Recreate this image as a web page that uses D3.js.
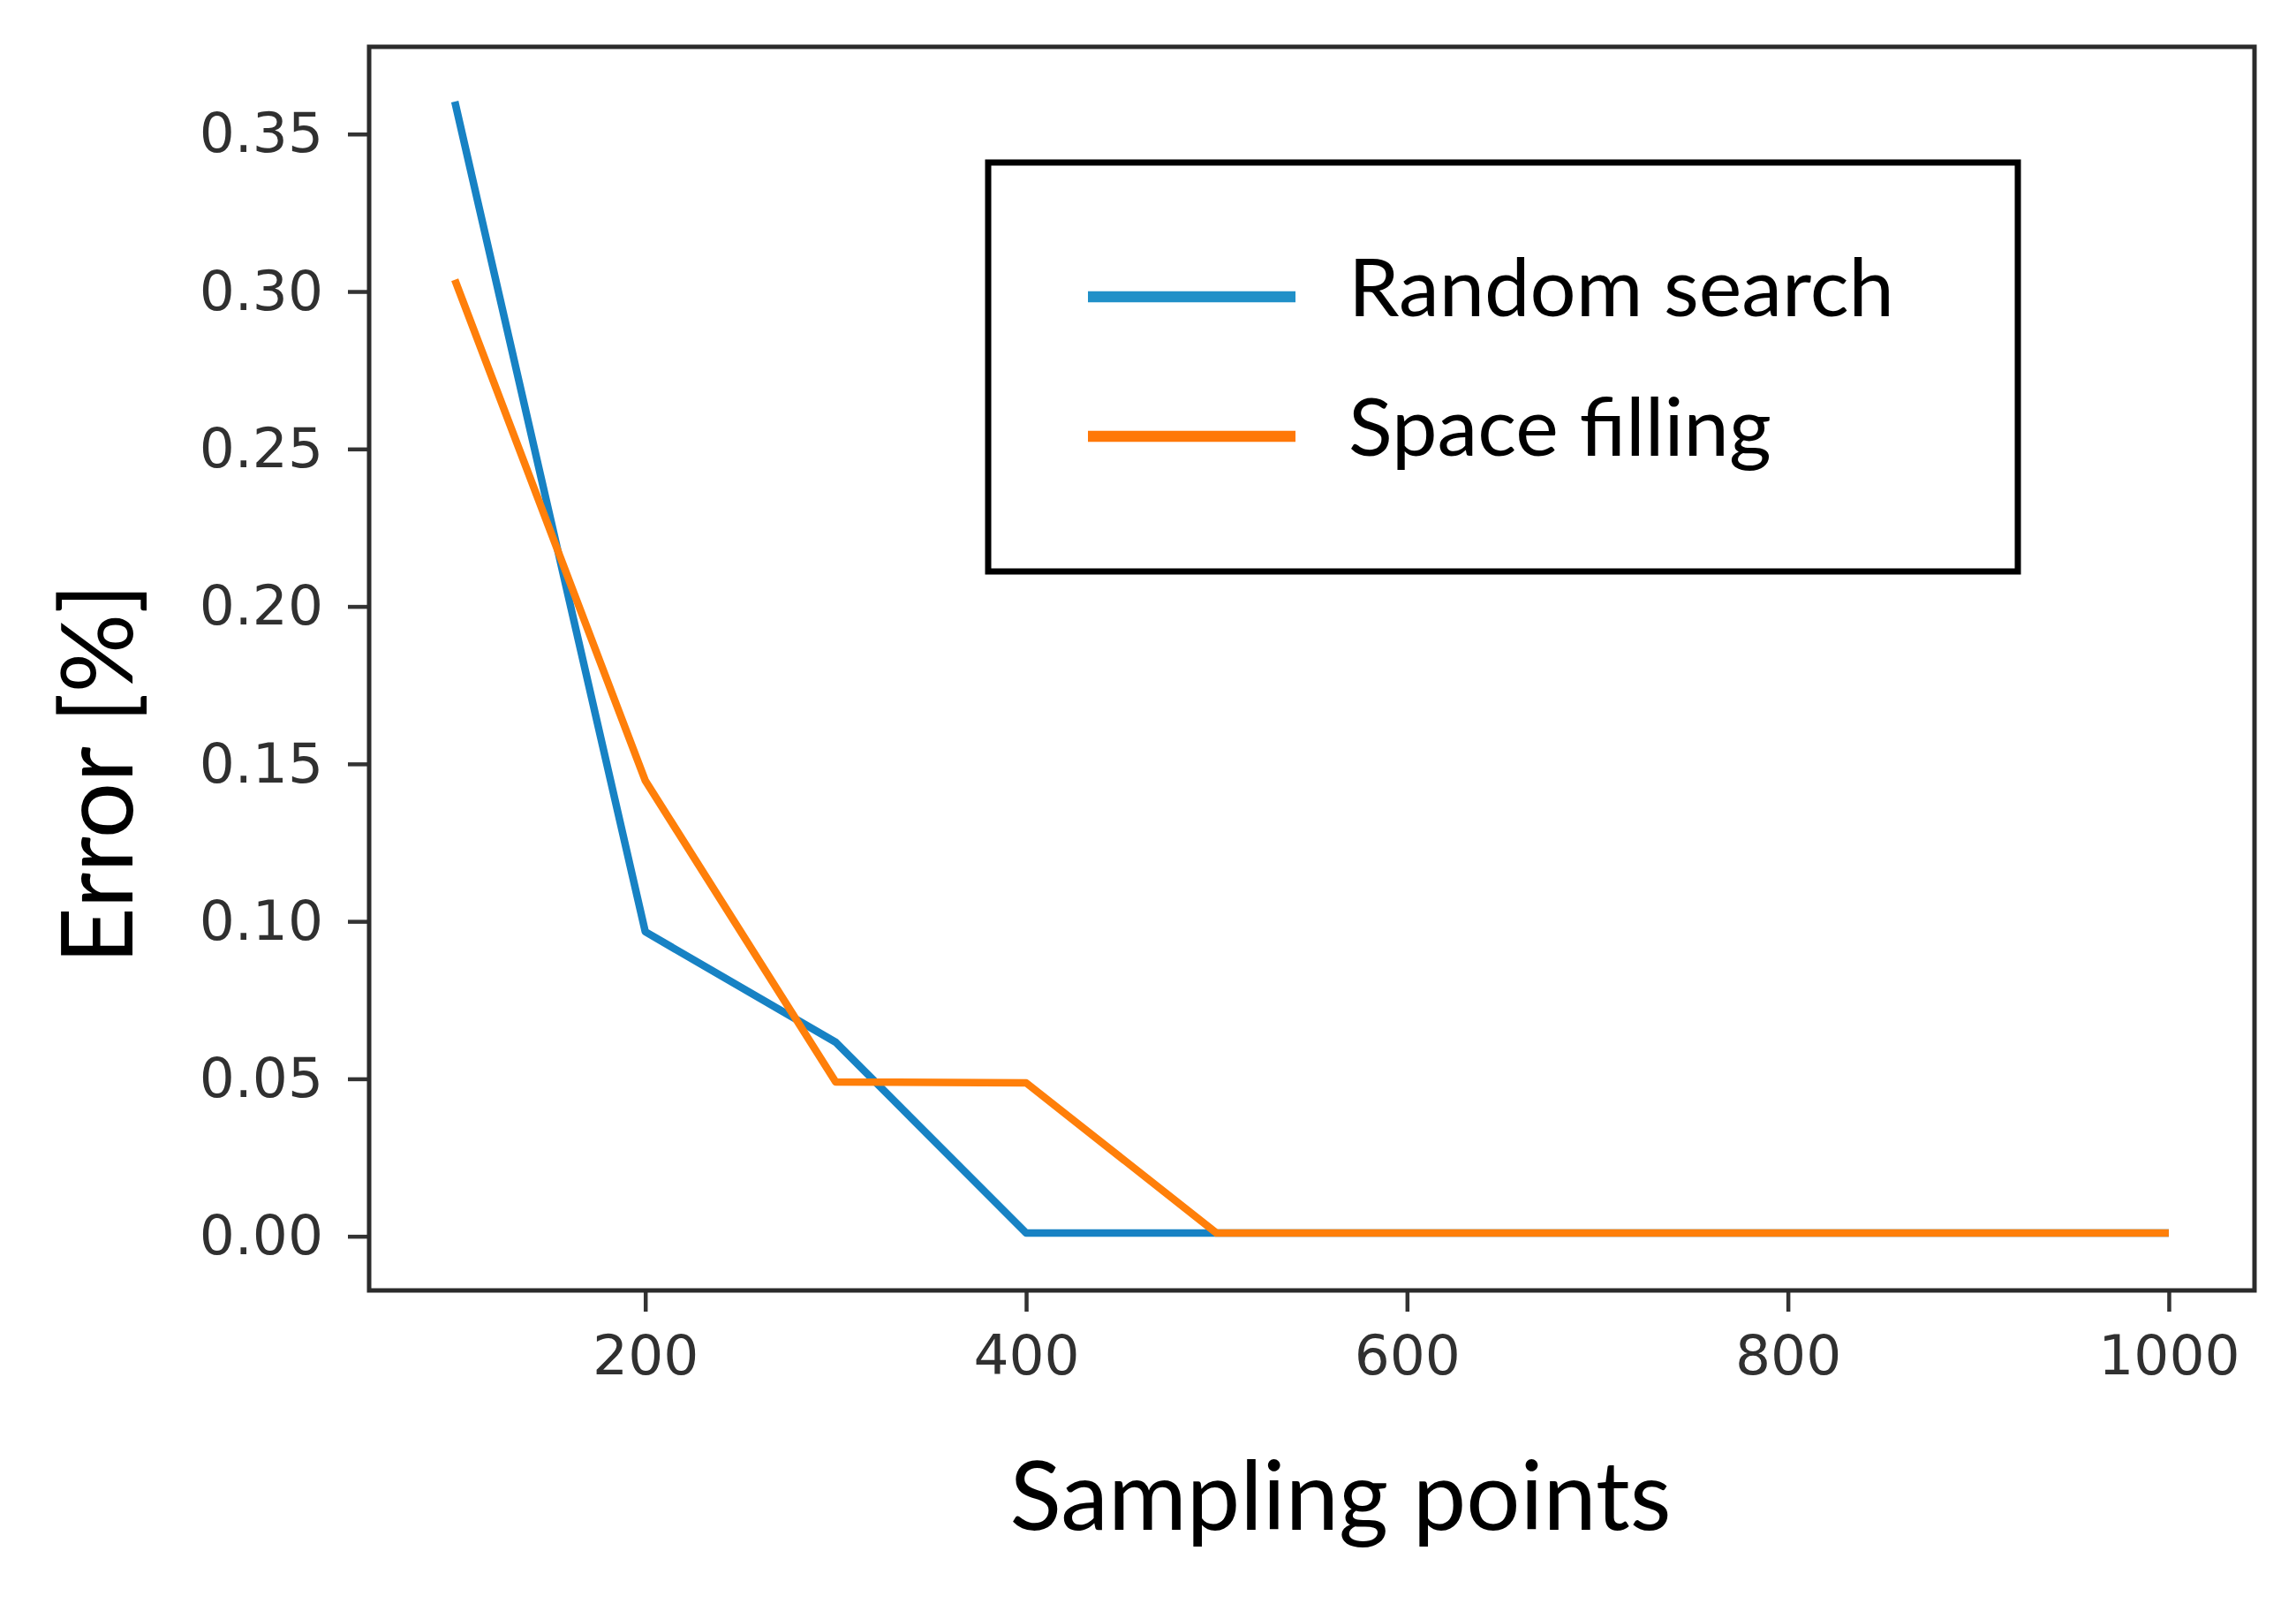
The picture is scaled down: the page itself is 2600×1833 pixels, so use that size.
<!DOCTYPE html>
<html>
<head>
<meta charset="utf-8">
<script src="https://cdn.jsdelivr.net/npm/d3@7"></script>
<style>
    body { margin: 0; background: #ffffff; }
    svg { display: block; }
</style>
</head>
<body>
<svg id="error-chart" width="2600" height="1833"></svg>
<script>

// Data
var samplingPoints = [100, 200, 300, 400, 500, 600, 700, 800, 900, 1000];
var randomSearch = [0.3603, 0.0967, 0.0616, 0.001, 0.001, 0.001, 0.001, 0.001, 0.001, 0.001];
var spaceFilling = [0.3037, 0.1447, 0.0490, 0.0487, 0.001, 0.001, 0.001, 0.001, 0.001, 0.001];

var seriesNames = ["Random search", "Space filling"];
var seriesColors = ["#1782c4", "#ff7f0a"];
var legendColors = ["#2090c8", "#ff7808"];

var xTicks = [200, 400, 600, 800, 1000];
var yTicks = [0.00, 0.05, 0.10, 0.15, 0.20, 0.25, 0.30, 0.35];

var xLabel = "Sampling points";
var yLabel = "Error [%]";


function ErrorChart(){

    var svg = d3.select("#error-chart");

    // plot frame in page pixels
    const margin = { top: 53, right: 47, bottom: 372, left: 418 };
    const width = +svg.attr("width");
    const height = +svg.attr("height");
    const Innerwidth = width - margin.left - margin.right;
    const Innerheight = height - margin.top - margin.bottom;

    svg.append("rect")
        .attr("width", width)
        .attr("height", height)
        .attr("fill", "#ffffff");

    var g = svg.append("g")
        .attr("transform", `translate(${margin.left},${margin.top})`);

    // matplotlib style 5% padding around the data
    var xScale = d3.scaleLinear()
        .domain([55, 1045])
        .range([0, Innerwidth]);

    var yScale = d3.scaleLinear()
        .domain([-0.0172, 0.3777])
        .range([Innerheight, 0]);

    // X axis
    var xAxis = g.append("g")
        .attr("transform", `translate(0,${Innerheight})`)
        .call(d3.axisBottom(xScale)
            .tickValues(xTicks)
            .tickFormat(d3.format("d"))
            .tickSize(24)
            .tickPadding(26));

    // Y axis
    var yAxis = g.append("g")
        .call(d3.axisLeft(yScale)
            .tickValues(yTicks)
            .tickFormat(d3.format(".2f"))
            .tickSize(24)
            .tickPadding(28));

    [xAxis, yAxis].forEach(function (ax) {
        ax.select(".domain").remove();
        ax.selectAll(".tick line")
            .attr("stroke", "#333333")
            .attr("stroke-width", 4.5);
        ax.selectAll(".tick text")
            .attr("fill", "#303030")
            .style("font-family", "DejaVu Sans")
            .style("font-size", "63px");
    });

    // Lines
    var line = d3.line()
        .x(function (d) { return xScale(d.x); })
        .y(function (d) { return yScale(d.y); });

    var allSeries = [randomSearch, spaceFilling];

    allSeries.forEach(function (values, i) {
        var pts = samplingPoints.map(function (p, j) { return { x: p, y: values[j] }; });
        g.append("path")
            .datum(pts)
            .attr("fill", "none")
            .attr("stroke", seriesColors[i])
            .attr("stroke-width", 8.5)
            .attr("stroke-linejoin", "round")
            .attr("d", line);
    });

    // Frame
    g.append("rect")
        .attr("width", Innerwidth)
        .attr("height", Innerheight)
        .attr("fill", "none")
        .attr("stroke", "#2b2b2b")
        .attr("stroke-width", 5);

    // Legend
    var legend = g.append("g")
        .attr("transform", `translate(${1119 - margin.left},${184 - margin.top})`);

    legend.append("rect")
        .attr("width", 1166)
        .attr("height", 463)
        .attr("fill", "#ffffff")
        .attr("stroke", "#000000")
        .attr("stroke-width", 7);

    legend.selectAll(".legend-item")
        .data(seriesNames)
        .enter()
        .append("g")
        .attr("class", "legend-item")
        .attr("transform", function (d, i) { return `translate(0, ${152 + i * 158})`; })
        .each(function (d, i) {
            d3.select(this).append("line")
                .attr("x1", 113)
                .attr("x2", 348)
                .attr("stroke", legendColors[i])
                .attr("stroke-width", 12.5);

            d3.select(this).append("text")
                .attr("x", 408)
                .attr("y", 22)
                .style("font-family", "Lato")
                .style("font-size", "92px")
                .attr("fill", "#000000")
                .text(d);
        });

    // X axis label
    svg.append("text")
        .attr("x", 1518)
        .attr("y", 1732)
        .style("text-anchor", "middle")
        .style("font-family", "Lato")
        .style("font-size", "108px")
        .attr("fill", "#000000")
        .text(xLabel);

    // Y axis label
    svg.append("text")
        .attr("transform", "translate(150,876) rotate(-90)")
        .style("text-anchor", "middle")
        .style("font-family", "Lato")
        .style("font-size", "112px")
        .attr("fill", "#000000")
        .text(yLabel);
}

ErrorChart();

</script>
</body>
</html>
